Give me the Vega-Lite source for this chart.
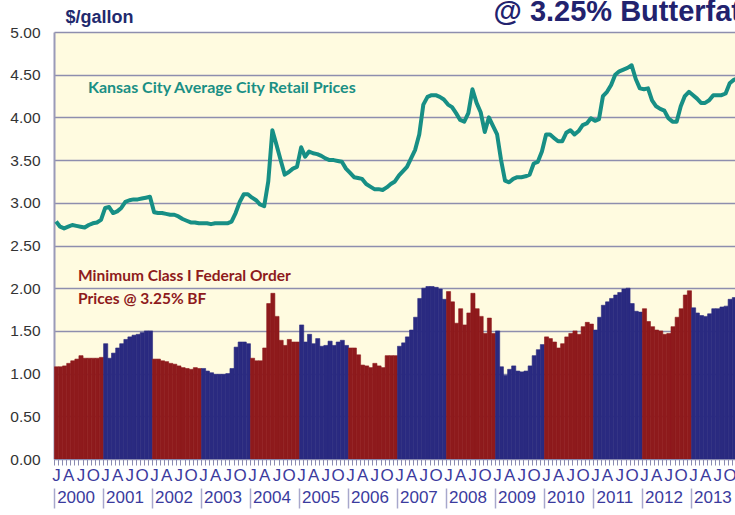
{
  "$schema": "https://vega.github.io/schema/vega-lite/v6.json",
  "width": 681,
  "height": 427,
  "autosize": {"type": "none"},
  "padding": {"left": 54, "top": 32, "right": 0, "bottom": 56},
  "background": "white",
  "config": {"view": {"fill": "#fffbe0", "stroke": null}},
  "title": {"text": "@ 3.25% Butterfat", "anchor": "end", "frame": "group", "fontSize": 29, "font": "Liberation Sans", "fontWeight": "bold", "color": "#22226e", "offset": 0, "dy": 19, "dx": 6},
  "data": {"values": [
    {"d":"2000-01-01","r":2.78,"f":1.08},{"d":"2000-02-01","r":2.72,"f":1.08},{"d":"2000-03-01","r":2.70,"f":1.09},{"d":"2000-04-01","r":2.72,"f":1.12},{"d":"2000-05-01","r":2.74,"f":1.15},{"d":"2000-06-01","r":2.73,"f":1.17},{"d":"2000-07-01","r":2.72,"f":1.21},{"d":"2000-08-01","r":2.71,"f":1.18},{"d":"2000-09-01","r":2.74,"f":1.18},{"d":"2000-10-01","r":2.76,"f":1.18},{"d":"2000-11-01","r":2.77,"f":1.18},{"d":"2000-12-01","r":2.80,"f":1.19},
    {"d":"2001-01-01","r":2.94,"f":1.35},{"d":"2001-02-01","r":2.95,"f":1.18},{"d":"2001-03-01","r":2.88,"f":1.24},{"d":"2001-04-01","r":2.90,"f":1.30},{"d":"2001-05-01","r":2.94,"f":1.35},{"d":"2001-06-01","r":3.01,"f":1.40},{"d":"2001-07-01","r":3.03,"f":1.43},{"d":"2001-08-01","r":3.04,"f":1.45},{"d":"2001-09-01","r":3.04,"f":1.46},{"d":"2001-10-01","r":3.05,"f":1.48},{"d":"2001-11-01","r":3.06,"f":1.50},{"d":"2001-12-01","r":3.07,"f":1.50},
    {"d":"2002-01-01","r":2.89,"f":1.17},{"d":"2002-02-01","r":2.88,"f":1.17},{"d":"2002-03-01","r":2.88,"f":1.15},{"d":"2002-04-01","r":2.87,"f":1.14},{"d":"2002-05-01","r":2.86,"f":1.12},{"d":"2002-06-01","r":2.86,"f":1.11},{"d":"2002-07-01","r":2.84,"f":1.09},{"d":"2002-08-01","r":2.81,"f":1.07},{"d":"2002-09-01","r":2.79,"f":1.06},{"d":"2002-10-01","r":2.77,"f":1.05},{"d":"2002-11-01","r":2.77,"f":1.07},{"d":"2002-12-01","r":2.76,"f":1.06},
    {"d":"2003-01-01","r":2.76,"f":1.06},{"d":"2003-02-01","r":2.76,"f":1.03},{"d":"2003-03-01","r":2.75,"f":1.01},{"d":"2003-04-01","r":2.76,"f":0.99},{"d":"2003-05-01","r":2.76,"f":0.99},{"d":"2003-06-01","r":2.76,"f":0.99},{"d":"2003-07-01","r":2.76,"f":1.00},{"d":"2003-08-01","r":2.78,"f":1.06},{"d":"2003-09-01","r":2.88,"f":1.31},{"d":"2003-10-01","r":3.01,"f":1.37},{"d":"2003-11-01","r":3.10,"f":1.37},{"d":"2003-12-01","r":3.10,"f":1.35},
    {"d":"2004-01-01","r":3.06,"f":1.18},{"d":"2004-02-01","r":3.03,"f":1.15},{"d":"2004-03-01","r":2.98,"f":1.15},{"d":"2004-04-01","r":2.96,"f":1.30},{"d":"2004-05-01","r":3.25,"f":1.82},{"d":"2004-06-01","r":3.85,"f":1.94},{"d":"2004-07-01","r":3.68,"f":1.67},{"d":"2004-08-01","r":3.50,"f":1.39},{"d":"2004-09-01","r":3.33,"f":1.33},{"d":"2004-10-01","r":3.36,"f":1.40},{"d":"2004-11-01","r":3.40,"f":1.37},{"d":"2004-12-01","r":3.42,"f":1.37},
    {"d":"2005-01-01","r":3.65,"f":1.57},{"d":"2005-02-01","r":3.54,"f":1.37},{"d":"2005-03-01","r":3.60,"f":1.46},{"d":"2005-04-01","r":3.58,"f":1.35},{"d":"2005-05-01","r":3.57,"f":1.41},{"d":"2005-06-01","r":3.55,"f":1.32},{"d":"2005-07-01","r":3.52,"f":1.33},{"d":"2005-08-01","r":3.50,"f":1.38},{"d":"2005-09-01","r":3.50,"f":1.33},{"d":"2005-10-01","r":3.49,"f":1.37},{"d":"2005-11-01","r":3.48,"f":1.39},{"d":"2005-12-01","r":3.40,"f":1.33},
    {"d":"2006-01-01","r":3.35,"f":1.30},{"d":"2006-02-01","r":3.30,"f":1.30},{"d":"2006-03-01","r":3.29,"f":1.22},{"d":"2006-04-01","r":3.28,"f":1.10},{"d":"2006-05-01","r":3.22,"f":1.09},{"d":"2006-06-01","r":3.19,"f":1.07},{"d":"2006-07-01","r":3.16,"f":1.12},{"d":"2006-08-01","r":3.16,"f":1.09},{"d":"2006-09-01","r":3.15,"f":1.07},{"d":"2006-10-01","r":3.18,"f":1.21},{"d":"2006-11-01","r":3.22,"f":1.21},{"d":"2006-12-01","r":3.25,"f":1.21},
    {"d":"2007-01-01","r":3.32,"f":1.32},{"d":"2007-02-01","r":3.37,"f":1.36},{"d":"2007-03-01","r":3.42,"f":1.43},{"d":"2007-04-01","r":3.52,"f":1.51},{"d":"2007-05-01","r":3.62,"f":1.66},{"d":"2007-06-01","r":3.80,"f":1.88},{"d":"2007-07-01","r":4.15,"f":2.00},{"d":"2007-08-01","r":4.24,"f":2.02},{"d":"2007-09-01","r":4.26,"f":2.02},{"d":"2007-10-01","r":4.26,"f":2.01},{"d":"2007-11-01","r":4.24,"f":1.99},{"d":"2007-12-01","r":4.21,"f":1.87},
    {"d":"2008-01-01","r":4.15,"f":1.96},{"d":"2008-02-01","r":4.12,"f":1.84},{"d":"2008-03-01","r":4.05,"f":1.59},{"d":"2008-04-01","r":3.97,"f":1.76},{"d":"2008-05-01","r":3.95,"f":1.57},{"d":"2008-06-01","r":4.05,"f":1.71},{"d":"2008-07-01","r":4.33,"f":1.94},{"d":"2008-08-01","r":4.17,"f":1.76},{"d":"2008-09-01","r":4.06,"f":1.67},{"d":"2008-10-01","r":3.83,"f":1.47},{"d":"2008-11-01","r":4.00,"f":1.65},{"d":"2008-12-01","r":3.90,"f":1.47},
    {"d":"2009-01-01","r":3.80,"f":1.50},{"d":"2009-02-01","r":3.50,"f":1.08},{"d":"2009-03-01","r":3.26,"f":0.98},{"d":"2009-04-01","r":3.24,"f":1.05},{"d":"2009-05-01","r":3.28,"f":1.09},{"d":"2009-06-01","r":3.30,"f":1.03},{"d":"2009-07-01","r":3.30,"f":1.02},{"d":"2009-08-01","r":3.31,"f":1.03},{"d":"2009-09-01","r":3.33,"f":1.09},{"d":"2009-10-01","r":3.46,"f":1.21},{"d":"2009-11-01","r":3.48,"f":1.28},{"d":"2009-12-01","r":3.60,"f":1.34},
    {"d":"2010-01-01","r":3.80,"f":1.43},{"d":"2010-02-01","r":3.80,"f":1.41},{"d":"2010-03-01","r":3.76,"f":1.37},{"d":"2010-04-01","r":3.72,"f":1.30},{"d":"2010-05-01","r":3.72,"f":1.35},{"d":"2010-06-01","r":3.82,"f":1.43},{"d":"2010-07-01","r":3.85,"f":1.47},{"d":"2010-08-01","r":3.80,"f":1.50},{"d":"2010-09-01","r":3.84,"f":1.46},{"d":"2010-10-01","r":3.91,"f":1.55},{"d":"2010-11-01","r":3.93,"f":1.60},{"d":"2010-12-01","r":3.99,"f":1.58},
    {"d":"2011-01-01","r":3.96,"f":1.51},{"d":"2011-02-01","r":3.98,"f":1.66},{"d":"2011-03-01","r":4.25,"f":1.80},{"d":"2011-04-01","r":4.30,"f":1.84},{"d":"2011-05-01","r":4.38,"f":1.88},{"d":"2011-06-01","r":4.50,"f":1.92},{"d":"2011-07-01","r":4.54,"f":1.95},{"d":"2011-08-01","r":4.56,"f":1.99},{"d":"2011-09-01","r":4.58,"f":2.00},{"d":"2011-10-01","r":4.61,"f":1.82},{"d":"2011-11-01","r":4.45,"f":1.73},{"d":"2011-12-01","r":4.34,"f":1.72},
    {"d":"2012-01-01","r":4.33,"f":1.76},{"d":"2012-02-01","r":4.34,"f":1.61},{"d":"2012-03-01","r":4.20,"f":1.55},{"d":"2012-04-01","r":4.13,"f":1.51},{"d":"2012-05-01","r":4.10,"f":1.50},{"d":"2012-06-01","r":4.08,"f":1.46},{"d":"2012-07-01","r":3.99,"f":1.47},{"d":"2012-08-01","r":3.95,"f":1.55},{"d":"2012-09-01","r":3.95,"f":1.66},{"d":"2012-10-01","r":4.13,"f":1.76},{"d":"2012-11-01","r":4.25,"f":1.92},{"d":"2012-12-01","r":4.30,"f":1.97},
    {"d":"2013-01-01","r":4.26,"f":1.77},{"d":"2013-02-01","r":4.22,"f":1.71},{"d":"2013-03-01","r":4.17,"f":1.68},{"d":"2013-04-01","r":4.17,"f":1.67},{"d":"2013-05-01","r":4.20,"f":1.70},{"d":"2013-06-01","r":4.26,"f":1.76},{"d":"2013-07-01","r":4.26,"f":1.76},{"d":"2013-08-01","r":4.26,"f":1.78},{"d":"2013-09-01","r":4.28,"f":1.79},{"d":"2013-10-01","r":4.40,"f":1.87},{"d":"2013-11-01","r":4.44,"f":1.89},{"d":"2013-12-01","r":4.46,"f":1.90}
  ]},
  "layer": [
    {
      "mark": {"type": "bar", "clip": true, "binSpacing": 0, "strokeWidth": 0.6},
      "encoding": {
        "x": {"field": "d", "type": "temporal", "timeUnit": "utcyearmonth",
          "scale": {"type": "utc", "domain": [{"year": 2000, "month": 1, "date": 1, "utc": true}, {"year": 2013, "month": 11, "date": 25, "utc": true}]},
          "axis": {"orient": "bottom", "title": null, "grid": false, "tickCount": {"interval": "month", "step": 1},
            "labelExpr": "utcmonth(datum.value) == 0 || utcmonth(datum.value) == 6 ? 'J' : utcmonth(datum.value) == 3 ? 'A' : utcmonth(datum.value) == 9 ? 'O' : ''",
            "labelOverlap": false, "labelFlush": false, "labelBound": false, "tickSize": 6, "tickColor": "#8a8ab0", "tickWidth": 1,
            "domainColor": "#8a8ab0", "domainWidth": 1, "labelFontSize": 17, "labelColor": "#3b3b9e", "labelFont": "Liberation Sans", "labelPadding": 2, "labelOffset": 2}},
        "y": {"field": "f", "type": "quantitative", "scale": {"domain": [0, 5], "nice": false},
          "axis": {"values": [0, 0.5, 1, 1.5, 2, 2.5, 3, 3.5, 4, 4.5, 5], "format": ".2f", "labelFontSize": 15.5, "labelColor": "#333333", "labelFont": "Liberation Sans", "labelPadding": 14, "ticks": false,
            "domainColor": "#9a9ab8", "domainWidth": 2, "gridColor": "#8e8eae", "gridWidth": 1.5,
            "title": "$/gallon", "titleAngle": 0, "titleX": 11, "titleY": -10, "titleAlign": "left", "titleBaseline": "alphabetic", "titleFontSize": 18, "titleFontWeight": "bold", "titleColor": "#1f2a6e", "titleFont": "Liberation Sans"}},
        "color": {"field": "d", "timeUnit": "utcyear", "type": "ordinal", "scale": {"range": ["#8e1a1c", "#2a2a80"]}, "legend": null},
        "stroke": {"field": "d", "timeUnit": "utcyear", "type": "ordinal", "scale": {"range": ["#8e1a1c", "#2a2a80"]}, "legend": null}
      }
    },
    {
      "mark": {"type": "line", "clip": true, "color": "#178f85", "strokeWidth": 4, "strokeJoin": "round"},
      "encoding": {
        "x": {"field": "d", "type": "temporal", "timeUnit": "utcyearmonth", "bandPosition": 0.5,
          "axis": {"orient": "bottom", "offset": 28, "title": null, "grid": false, "domain": false, "ticks": false, "labelOverlap": false, "labelFlush": false, "labelBound": false,
            "values": [{"year": 2000, "month": 7, "date": 2, "utc": true}, {"year": 2001, "month": 7, "date": 2, "utc": true}, {"year": 2002, "month": 7, "date": 2, "utc": true}, {"year": 2003, "month": 7, "date": 2, "utc": true}, {"year": 2004, "month": 7, "date": 2, "utc": true}, {"year": 2005, "month": 7, "date": 2, "utc": true}, {"year": 2006, "month": 7, "date": 2, "utc": true}, {"year": 2007, "month": 7, "date": 2, "utc": true}, {"year": 2008, "month": 7, "date": 2, "utc": true}, {"year": 2009, "month": 7, "date": 2, "utc": true}, {"year": 2010, "month": 7, "date": 2, "utc": true}, {"year": 2011, "month": 7, "date": 2, "utc": true}, {"year": 2012, "month": 7, "date": 2, "utc": true}, {"year": 2013, "month": 7, "date": 2, "utc": true}],
            "labelExpr": "'' + utcyear(datum.value)", "labelFontSize": 17, "labelColor": "#3b3b9e", "labelFont": "Liberation Sans", "labelPadding": 2, "labelOffset": -3}},
        "y": {"field": "r", "type": "quantitative"}
      }
    },
    {
      "data": {"values": [{"d": "2000-09-10", "v": 4.286, "t": "Kansas City Average City Retail Prices"}]},
      "mark": {"type": "text", "align": "left", "baseline": "alphabetic", "font": "Lato", "fontWeight": "bold", "fontSize": 16, "color": "#1a8f84"},
      "encoding": {
        "x": {"field": "d", "type": "temporal",
          "axis": {"orient": "bottom", "offset": 29, "title": null, "grid": false, "domain": false, "labels": false, "tickSize": 20, "tickColor": "#a8a8cc", "tickWidth": 1.5,
            "values": [{"year": 2000, "month": 1, "date": 1, "utc": true}, {"year": 2001, "month": 1, "date": 1, "utc": true}, {"year": 2002, "month": 1, "date": 1, "utc": true}, {"year": 2003, "month": 1, "date": 1, "utc": true}, {"year": 2004, "month": 1, "date": 1, "utc": true}, {"year": 2005, "month": 1, "date": 1, "utc": true}, {"year": 2006, "month": 1, "date": 1, "utc": true}, {"year": 2007, "month": 1, "date": 1, "utc": true}, {"year": 2008, "month": 1, "date": 1, "utc": true}, {"year": 2009, "month": 1, "date": 1, "utc": true}, {"year": 2010, "month": 1, "date": 1, "utc": true}, {"year": 2011, "month": 1, "date": 1, "utc": true}, {"year": 2012, "month": 1, "date": 1, "utc": true}, {"year": 2013, "month": 1, "date": 1, "utc": true}]}},
        "y": {"field": "v", "type": "quantitative"},
        "text": {"field": "t"}
      }
    },
    {
      "data": {"values": [{"d": "2000-06-28", "v": 2.084, "t": "Minimum Class I Federal Order\nPrices @ 3.25% BF"}]},
      "mark": {"type": "text", "align": "left", "baseline": "alphabetic", "font": "Lato", "fontWeight": "bold", "fontSize": 15.5, "color": "#8e1a1c", "lineBreak": "\n", "lineHeight": 23},
      "encoding": {
        "x": {"field": "d", "type": "temporal", "axis": null},
        "y": {"field": "v", "type": "quantitative"},
        "text": {"field": "t"}
      }
    }
  ],
  "resolve": {"axis": {"x": "independent"}}
}
